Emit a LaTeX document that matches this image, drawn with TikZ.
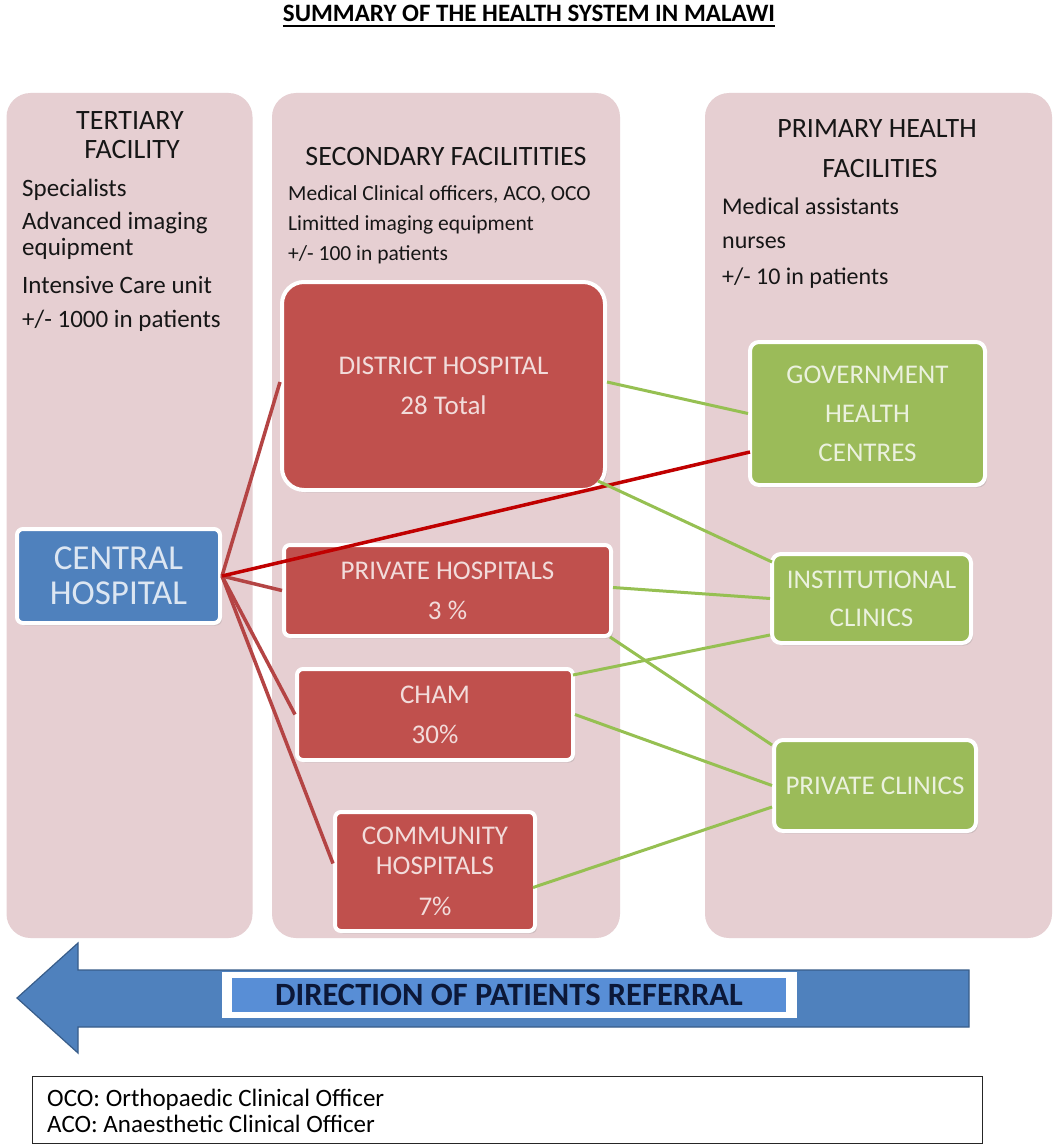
\documentclass[tikz,border=0pt]{standalone}
\usepackage{fontspec}
\setmainfont{Carlito}
\usetikzlibrary{calc,shadows}
\definecolor{colbg}{RGB}{230,207,210}
\definecolor{coltext}{RGB}{22,22,22}
\definecolor{rednode}{RGB}{192,80,77}
\definecolor{redtext}{RGB}{242,220,219}
\definecolor{bluenode}{RGB}{79,129,189}
\definecolor{bluetext}{RGB}{220,230,242}
\definecolor{greennode}{RGB}{155,187,89}
\definecolor{greentext}{RGB}{235,241,222}
\definecolor{redline}{RGB}{180,68,68}
\definecolor{darkredline}{RGB}{192,0,0}
\definecolor{greenline}{RGB}{150,192,82}
\definecolor{arrowblue}{RGB}{79,129,189}
\definecolor{arrowedge}{RGB}{56,93,138}
\definecolor{innerblue}{RGB}{88,142,214}
\definecolor{navytext}{RGB}{12,24,56}
\begin{document}
\begin{tikzpicture}[x=1pt,y=-1pt,
  colbox/.style={fill=colbg, rounded corners=24pt, inner sep=0pt},
  boxbase/.style={draw=white, line width=4pt, inner sep=0pt, align=center,
    drop shadow={opacity=0.25, shadow xshift=2pt, shadow yshift=-2.5pt}},
  redbox/.style={boxbase, fill=rednode, text=redtext, rounded corners=6pt,
    font=\fontsize{27}{40}\selectfont},
  greenbox/.style={boxbase, fill=greennode, text=greentext, rounded corners=9pt,
    font=\fontsize{27}{39}\selectfont},
  bluebox/.style={boxbase, fill=bluenode, text=bluetext, rounded corners=6pt,
    font=\fontsize{35}{35}\selectfont},
  head/.style={anchor=base, text=coltext, inner sep=0pt, font=\fontsize{28}{28}\selectfont},
  bodyL/.style={anchor=base west, text=coltext, inner sep=0pt, font=\fontsize{25}{25}\selectfont},
  bodyM/.style={anchor=base west, text=coltext, inner sep=0pt, font=\fontsize{21.5}{21.5}\selectfont},
  bodyR/.style={anchor=base west, text=coltext, inner sep=0pt, font=\fontsize{24}{24}\selectfont},
  redlink/.style={draw=redline, line width=3.5pt},
  greenlink/.style={draw=greenline, line width=3pt},
  legendtext/.style={anchor=base west, inner sep=0pt, font=\fontsize{25}{25}\selectfont}
]
\useasboundingbox (0,0) rectangle (1058,1145);
\fill[white] (0,0) rectangle (1058,1145);

% title
\node[anchor=base, inner sep=0pt, font=\fontsize{25}{25}\selectfont\bfseries] (title) at (529,22) {SUMMARY OF THE HEALTH SYSTEM IN MALAWI};
\draw[line width=2pt] ($(title.base west)+(0,4)$) -- ($(title.base east)+(0,4)$);

% columns
\node[colbox, minimum width=246, minimum height=845] (colT) at (129.5,515.5) {};
\node[colbox, minimum width=348, minimum height=845] (colS) at (446,515.5) {};
\node[colbox, minimum width=347, minimum height=845] (colP) at (878.5,515.5) {};

% tertiary text
\node[head] (tA) at (130,130) {TERTIARY};
\node[head] (tB) at (132,158) {FACILITY};
\node[bodyL] (t1) at (22,196) {Specialists};
\node[bodyL] (t2) at (22,229) {Advanced imaging};
\node[bodyL] (t3) at (22,255) {equipment};
\node[bodyL] (t4) at (22,293) {Intensive Care unit};
\node[bodyL] (t5) at (22,327) {+/- 1000 in patients};

% secondary text
\node[head] (sA) at (446,165) {SECONDARY FACILITITIES};
\node[bodyM] (s1) at (288,200) {Medical Clinical officers, ACO, OCO};
\node[bodyM] (s2) at (288,230) {Limitted imaging equipment};
\node[bodyM] (s3) at (288,260) {+/- 100 in patients};

% primary text
\node[head] (pA) at (877,138) {PRIMARY HEALTH};
\node[head] (pB) at (880,177) {FACILITIES};
\node[bodyR] (p1) at (722,214) {Medical assistants};
\node[bodyR] (p2) at (722,248) {nurses};
\node[bodyR] (p3) at (722,284) {+/- 10 in patients};

% nodes
\node[bluebox, minimum width=203, minimum height=94] (central) at (118.5,576) {CENTRAL\\HOSPITAL};
\node[redbox, rounded corners=22pt, minimum width=323, minimum height=208] (district) at (443.5,386) {DISTRICT HOSPITAL\\28 Total};
\node[redbox, minimum width=327, minimum height=91] (privhosp) at (447.5,590.5) {PRIVATE HOSPITALS\\3 \%};
\node[redbox, minimum width=276, minimum height=91] (cham) at (435,714.5) {CHAM\\30\%};
\node[redbox, minimum width=200, minimum height=119, font=\fontsize{27}{30}\selectfont] (community) at (435,871.5) {COMMUNITY\\HOSPITALS\\[11pt]7\%};
\node[greenbox, minimum width=235, minimum height=143] (gov) at (867.5,413.5) {GOVERNMENT\\HEALTH\\CENTRES};
\node[greenbox, minimum width=199, minimum height=89, font=\fontsize{27}{38}\selectfont] (inst) at (871.5,598.5) {INSTITUTIONAL\\CLINICS};
\node[greenbox, minimum width=202, minimum height=91] (privclin) at (875,785.5) {PRIVATE CLINICS};

% red connectors
\draw[redlink] (central.east) -- ($(district.west)+(0,-4)$);
\draw[redlink] (central.east) -- (privhosp.west);
\draw[redlink] (central.east) -- (cham.west);
\draw[redlink] (central.east) -- ($(community.west)+(0,-8)$);
\draw[draw=darkredline, line width=3.5pt] (central.east) -- ($(gov.south west)+(2,-35)$);

% green connectors
\draw[greenlink] ($(district.east)+(0,-4)$) -- (gov.west);
\draw[greenlink] ($(district.south east)+(-9,-11)$) -- ($(inst.north west)+(2,10)$);
\draw[greenlink] ($(privhosp.east)+(0,-3)$) -- (inst.west);
\draw[greenlink] ($(privhosp.south east)+(-3,-1)$) -- ($(privclin.north west)+(0,7)$);
\draw[greenlink] ($(cham.north east)+(-2,8)$) -- ($(inst.south west)+(0,-10)$);
\draw[greenlink] (cham.east) -- (privclin.west);
\draw[greenlink] ($(community.east)+(-4,16)$) -- ($(privclin.south west)+(0,-26)$);

% referral arrow
\draw[fill=arrowblue, draw=arrowedge, line width=1.2pt, line join=miter]
  (17,998) -- (78,943) -- (78,970) -- (969,970) -- (969,1027) -- (78,1027) -- (78,1053) -- cycle;
\fill[white] (222,972) rectangle (797,1018);
\node[fill=innerblue, inner sep=0pt, minimum width=554, minimum height=34, text=navytext,
  font=\fontsize{32.5}{32.5}\selectfont\bfseries] (referral) at (509,995) {DIRECTION OF PATIENTS REFERRAL};

% legend
\node[draw=black!85, line width=1.3pt, minimum width=950, minimum height=67, anchor=north west, inner sep=0pt] (legend) at (32,1076) {};
\node[legendtext] (leg1) at (47,1106) {OCO: Orthopaedic Clinical Officer};
\node[legendtext] (leg2) at (47,1132) {ACO: Anaesthetic Clinical Officer};
\end{tikzpicture}
\end{document}
